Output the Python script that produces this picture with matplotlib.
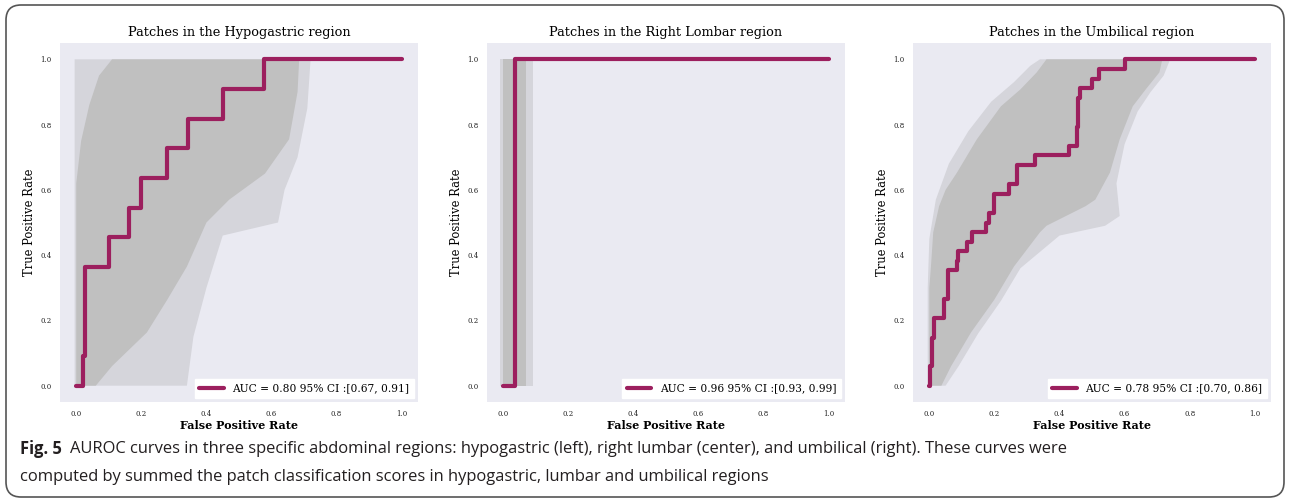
import matplotlib
matplotlib.use("Agg")
import matplotlib.pyplot as plt
from matplotlib.patches import FancyBboxPatch
import numpy as np

# --- data ---

titles = ["Patches in the Hypogastric region",
          "Patches in the Right Lombar region",
          "Patches in the Umbilical region"]
legends = ["AUC = 0.80 95% CI :[0.67, 0.91]",
           "AUC = 0.96 95% CI :[0.93, 0.99]",
           "AUC = 0.78 95% CI :[0.70, 0.86]"]

# hypogastric ROC (vertices of the step curve)
fpr_hypo = [0, 0.02, 0.02, 0.026, 0.026, 0.10, 0.10, 0.163, 0.163, 0.20, 0.20,
            0.278, 0.278, 0.342, 0.342, 0.45, 0.45, 0.577, 0.577, 1.0]
tpr_hypo = [0, 0, 0.091, 0.091, 0.364, 0.364, 0.455, 0.455, 0.545, 0.545, 0.636,
            0.636, 0.727, 0.727, 0.818, 0.818, 0.909, 0.909, 1.0, 1.0]
# bootstrap band outline (hypogastric): upper-left edge then lower-right edge
hypo_up_x = [0, 0, 0.015, 0.04, 0.07, 0.11]
hypo_up_y = [0, 0.62, 0.75, 0.86, 0.95, 1.0]
hypo_lo_x = [0.685, 0.68, 0.654, 0.58, 0.47, 0.40, 0.34, 0.28, 0.217, 0.11, 0.06]
hypo_lo_y = [1.0, 0.9, 0.755, 0.65, 0.57, 0.50, 0.365, 0.264, 0.163, 0.06, 0.0]
# faint outer part of the band
hypo_halo_x = [-0.005, -0.005, 0.72, 0.71, 0.68, 0.64, 0.62, 0.45, 0.40, 0.36, 0.34]
hypo_halo_y = [0, 1.0, 1.0, 0.85, 0.70, 0.60, 0.50, 0.46, 0.30, 0.15, 0.0]

# right lumbar ROC
fpr_lomb = [0, 0.035, 0.035, 1.0]
tpr_lomb = [0, 0, 1.0, 1.0]
band_lomb_x = [0.0, 0.07]
halo_lomb_x = [-0.01, 0.09]

# umbilical ROC
fpr_umb = [0, 0.003, 0.003, 0.008, 0.008, 0.013, 0.013, 0.044, 0.044, 0.058, 0.058,
           0.084, 0.084, 0.089, 0.089, 0.115, 0.115, 0.132, 0.132, 0.173, 0.173,
           0.183, 0.183, 0.198, 0.198, 0.244, 0.244, 0.27, 0.27, 0.325, 0.325,
           0.43, 0.43, 0.453, 0.453, 0.458, 0.458, 0.463, 0.463, 0.50, 0.50,
           0.522, 0.522, 0.60, 0.60, 1.0]
tpr_umb = [0, 0, 0.059, 0.059, 0.147, 0.147, 0.206, 0.206, 0.265, 0.265, 0.353,
           0.353, 0.382, 0.382, 0.412, 0.412, 0.441, 0.441, 0.471, 0.471, 0.50,
           0.50, 0.529, 0.529, 0.588, 0.588, 0.618, 0.618, 0.676, 0.676, 0.706,
           0.706, 0.735, 0.735, 0.794, 0.794, 0.882, 0.882, 0.912, 0.912, 0.941,
           0.941, 0.971, 0.971, 1.0, 1.0]
# bootstrap band (upper-left edge, then lower-right edge)
umb_up_x = [0, 0, 0.005, 0.012, 0.03, 0.05, 0.085, 0.146, 0.22, 0.28, 0.33, 0.36]
umb_up_y = [0, 0.30, 0.365, 0.47, 0.55, 0.60, 0.653, 0.755, 0.856, 0.908, 0.96, 1.0]
umb_lo_x = [0.716, 0.707, 0.665, 0.625, 0.585, 0.555, 0.51, 0.48, 0.36, 0.34, 0.26,
            0.20, 0.128, 0.067, 0.037]
umb_lo_y = [1.0, 0.96, 0.908, 0.856, 0.755, 0.653, 0.57, 0.55, 0.49, 0.47, 0.365,
            0.264, 0.163, 0.06, 0.0]
umb_halo_up_x = [-0.005, -0.005, 0.0, 0.02, 0.06, 0.12, 0.19, 0.26, 0.31, 0.34]
umb_halo_up_y = [0, 0.30, 0.45, 0.57, 0.68, 0.78, 0.87, 0.93, 0.98, 1.0]
umb_halo_lo_x = [0.74, 0.72, 0.68, 0.64, 0.60, 0.575, 0.585, 0.54, 0.40, 0.28, 0.22, 0.15, 0.09, 0.05]
umb_halo_lo_y = [1.0, 0.95, 0.90, 0.84, 0.74, 0.62, 0.52, 0.49, 0.46, 0.36, 0.26, 0.16, 0.06, 0.0]

caption_bold = "Fig. 5"
caption_1 = ("AUROC curves in three specific abdominal regions: hypogastric (left), right lumbar (center), "
             "and umbilical (right). These curves were")
caption_2 = "computed by summed the patch classification scores in hypogastric, lumbar and umbilical regions"

# --- style ---
red = "#9c1f5e"
gray = "#c0c0c0"
halo = "#d5d5db"
bg = "#eaeaf2"
txt = "#231f20"

plt.rcParams["font.family"] = "DejaVu Serif"

fig = plt.figure(figsize=(12.9, 5.03), dpi=100)
lefts = [0.0465, 0.3775, 0.7078]
axes = [fig.add_axes([l, 0.2008, 0.2775, 0.7137]) for l in lefts]

for ax in axes:
    ax.set_facecolor(bg)
    for s in ax.spines.values():
        s.set_visible(False)

# hypogastric
ax = axes[0]
ax.fill(hypo_halo_x, hypo_halo_y, color=halo, lw=0)
ax.fill(np.r_[hypo_up_x, hypo_lo_x], np.r_[hypo_up_y, hypo_lo_y], color=gray, lw=0)
ax.plot(fpr_hypo, tpr_hypo, color=red, lw=3, solid_capstyle="round", label=legends[0])

# right lumbar
ax = axes[1]
ax.fill_betweenx([0, 1], halo_lomb_x[0], halo_lomb_x[1], color=halo, lw=0)
ax.fill_betweenx([0, 1], band_lomb_x[0], band_lomb_x[1], color=gray, lw=0)
ax.plot(fpr_lomb, tpr_lomb, color=red, lw=3, solid_capstyle="round", label=legends[1])

# umbilical
ax = axes[2]
ax.fill(np.r_[umb_halo_up_x, umb_halo_lo_x], np.r_[umb_halo_up_y, umb_halo_lo_y], color=halo, lw=0)
ax.fill(np.r_[umb_up_x, umb_lo_x], np.r_[umb_up_y, umb_lo_y], color=gray, lw=0)
ax.plot(fpr_umb, tpr_umb, color=red, lw=3, solid_capstyle="round", label=legends[2])

for ax, t in zip(axes, titles):
    ax.set_xlim(-0.05, 1.05)
    ax.set_ylim(-0.05, 1.05)
    ax.set_xticks([0, 0.2, 0.4, 0.6, 0.8, 1.0])
    ax.set_yticks([0, 0.2, 0.4, 0.6, 0.8, 1.0])
    ax.tick_params(length=0, labelsize=5, pad=6, labelcolor="#222")
    ax.set_title(t, fontsize=9.3, pad=5)
    ax.set_xlabel("False Positive Rate", fontsize=8, labelpad=1, fontweight="bold")
    ax.set_ylabel("True Positive Rate", fontsize=8.3, labelpad=3)
    leg = ax.legend(loc="lower right", fontsize=7.7, frameon=True, fancybox=False,
                    handlelength=2.3, borderaxespad=0.4)
    leg.get_frame().set_facecolor("white")
    leg.get_frame().set_edgecolor("white")
    leg.get_frame().set_alpha(1)

# caption
cap_font = ["Open Sans", "DejaVu Sans"]
fs = 11.9
b = fig.text(0.0155, 0.107, caption_bold, fontsize=fs, fontweight="bold", family=cap_font,
             color=txt, va="center")
fig.canvas.draw()
bb = b.get_window_extent().transformed(fig.transFigure.inverted())
fig.text(bb.x1 + 0.006, 0.107, caption_1, fontsize=fs, family=cap_font, color=txt, va="center")
fig.text(0.0155, 0.051, caption_2, fontsize=fs, family=cap_font, color=txt, va="center")

# rounded frame
frame = FancyBboxPatch((0.06, 0.06), 12.78, 4.92, boxstyle="round,pad=0,rounding_size=0.15",
                       transform=fig.dpi_scale_trans, fill=False, edgecolor="#555", lw=1.2)
fig.patches.append(frame)

fig.savefig("out.png", dpi=100)
